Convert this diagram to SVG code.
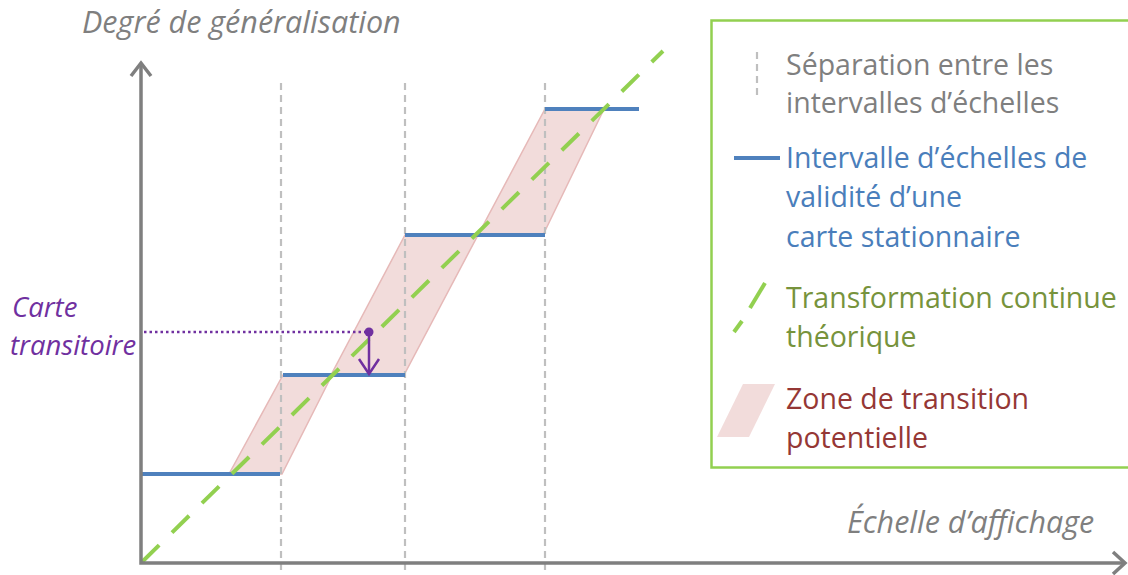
<svg xmlns="http://www.w3.org/2000/svg" width="1128" height="575" viewBox="0 0 1128 575">
  <style>
    .txt { font-family: "Open Sans", "Liberation Sans", sans-serif; }
    .ital { font-style: italic; }
    .axis { stroke: #7f7f7f; stroke-width: 3.5; fill: none; }
    .sep { stroke: #bfbfbf; stroke-width: 2.2; stroke-dasharray: 7 5; fill: none; }
    .interval { stroke: #4f81bd; stroke-width: 4; fill: none; }
    .trans { stroke: #92d050; stroke-width: 4; stroke-dasharray: 24 18; fill: none; }
    .zone { fill: #f2dcdb; stroke: #e6b9b8; stroke-width: 1.5; }
    .zonelegend { fill: #f2dcdb; stroke: none; }
    .purple { stroke: #7030a0; stroke-width: 2.5; fill: none; }
  </style>
  <rect width="1128" height="575" fill="#ffffff"/>

  <!-- transition zones -->
  <g id="zones">
    <polygon class="zone" points="229,474 282,474 332,375 283,375"/>
    <polygon class="zone" points="331,375 404,375 478,235 405,235"/>
    <polygon class="zone" points="478,235 543,235 604,109 545,109"/>
  </g>

  <!-- separators between scale intervals -->
  <g id="separators">
    <line class="sep" x1="281" y1="83" x2="281" y2="570"/>
    <line class="sep" x1="405" y1="83" x2="405" y2="570"/>
    <line class="sep" x1="545" y1="83" x2="545" y2="570"/>
  </g>

  <!-- stationary map intervals -->
  <g id="intervals">
    <line class="interval" x1="142" y1="474" x2="280" y2="474"/>
    <line class="interval" x1="283" y1="375" x2="405" y2="375"/>
    <line class="interval" x1="405" y1="235" x2="545" y2="235"/>
    <line class="interval" x1="545" y1="109" x2="639" y2="109"/>
  </g>

  <!-- theoretical continuous transformation -->
  <g id="transformation">
    <line class="trans" x1="142" y1="562" x2="663" y2="51"/>
  </g>

  <!-- axes -->
  <g id="axes">
    <polyline class="axis" points="141,63 141,563 1125,563"/>
    <polyline class="axis" points="131,76 141,63 151,76"/>
    <polyline class="axis" points="1113,552 1125,563 1113,574"/>
    <text class="txt ital" x="82" y="33" font-size="30.5" fill="#7f7f7f">Degré de généralisation</text>
    <text class="txt ital" x="847" y="533" font-size="30.5" fill="#7f7f7f">Échelle d’affichage</text>
  </g>

  <!-- transitional map -->
  <g id="transitional-map">
    <line class="purple" x1="144" y1="332" x2="366" y2="332" stroke-dasharray="2.5 3"/>
    <circle cx="369" cy="332" r="4.5" fill="#7030a0"/>
    <line class="purple" x1="369" y1="332" x2="369" y2="374"/>
    <polyline class="purple" points="359,359 369,374 379,359"/>
    <text class="txt ital" x="12" y="317" font-size="27.5" fill="#7030a0">Carte</text>
    <text class="txt ital" x="10" y="355" font-size="27.5" fill="#7030a0">transitoire</text>
  </g>

  <!-- legend -->
  <g id="legend">
    <rect x="711.5" y="20.5" width="420" height="447" fill="none" stroke="#92d050" stroke-width="2.5"/>
    <g id="legend-separator">
      <line class="sep" x1="757" y1="52" x2="757" y2="100"/>
      <text class="txt" x="786" y="75" font-size="28.5" fill="#7f7f7f">Séparation entre les</text>
      <text class="txt" x="786" y="113" font-size="28.5" fill="#7f7f7f">intervalles d’échelles</text>
    </g>
    <g id="legend-interval">
      <line class="interval" x1="734" y1="158" x2="780" y2="158"/>
      <text class="txt" x="786" y="168" font-size="28.5" fill="#4a7ebb">Intervalle d’échelles de</text>
      <text class="txt" x="786" y="207" font-size="28.5" fill="#4a7ebb">validité d’une</text>
      <text class="txt" x="786" y="247" font-size="28.5" fill="#4a7ebb">carte stationnaire</text>
    </g>
    <g id="legend-transformation">
      <line x1="765" y1="283" x2="750" y2="308" stroke="#92d050" stroke-width="4"/>
      <line x1="742" y1="321" x2="734" y2="332" stroke="#92d050" stroke-width="4"/>
      <text class="txt" x="786" y="308" font-size="28.5" fill="#77933c">Transformation continue</text>
      <text class="txt" x="786" y="347" font-size="28.5" fill="#77933c">théorique</text>
    </g>
    <g id="legend-zone">
      <polygon class="zonelegend" points="743,384 775,384 749,437 717,437"/>
      <text class="txt" x="786" y="409" font-size="28.5" fill="#953735">Zone de transition</text>
      <text class="txt" x="786" y="448" font-size="28.5" fill="#953735">potentielle</text>
    </g>
  </g>
</svg>
